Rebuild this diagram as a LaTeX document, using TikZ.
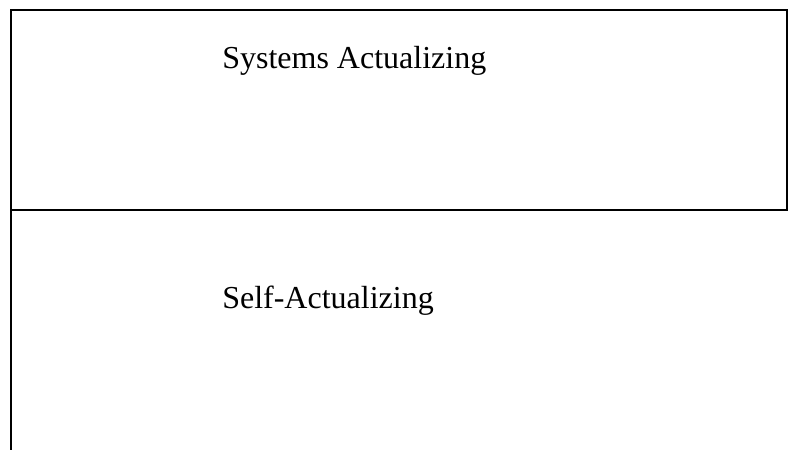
\documentclass[tikz,border=0pt]{standalone}
\usepackage{fontspec}
\setmainfont{Liberation Serif}
\begin{document}
\begin{tikzpicture}[x=0.75pt,y=-0.75pt,
  rule/.style={line width=1.5pt,black},
  label/.style={anchor=base west,inner sep=0pt,font=\fontsize{24}{28}\selectfont}]
\useasboundingbox (0,0) rectangle (788,450);
% frame of the two levels
\coordinate (tl) at (10.5,10);
\coordinate (tr) at (788,10);
\coordinate (ml) at (10.5,210);
\coordinate (mr) at (788,210);
\coordinate (bl) at (10.5,450);
\coordinate (rt) at (786.5,10);
\coordinate (rm) at (786.5,210);
\draw[rule] (tl) -- (tr);
\draw[rule] (ml) -- (mr);
\draw[rule] ([yshift=0.75pt]tl) -- (bl);
\draw[rule] (rt) -- (rm);
% level labels
\node[label] (sys) at (222,68) {Systems Actualizing};
\node[label] (self) at (222,308) {Self-Actualizing};
\end{tikzpicture}
\end{document}
